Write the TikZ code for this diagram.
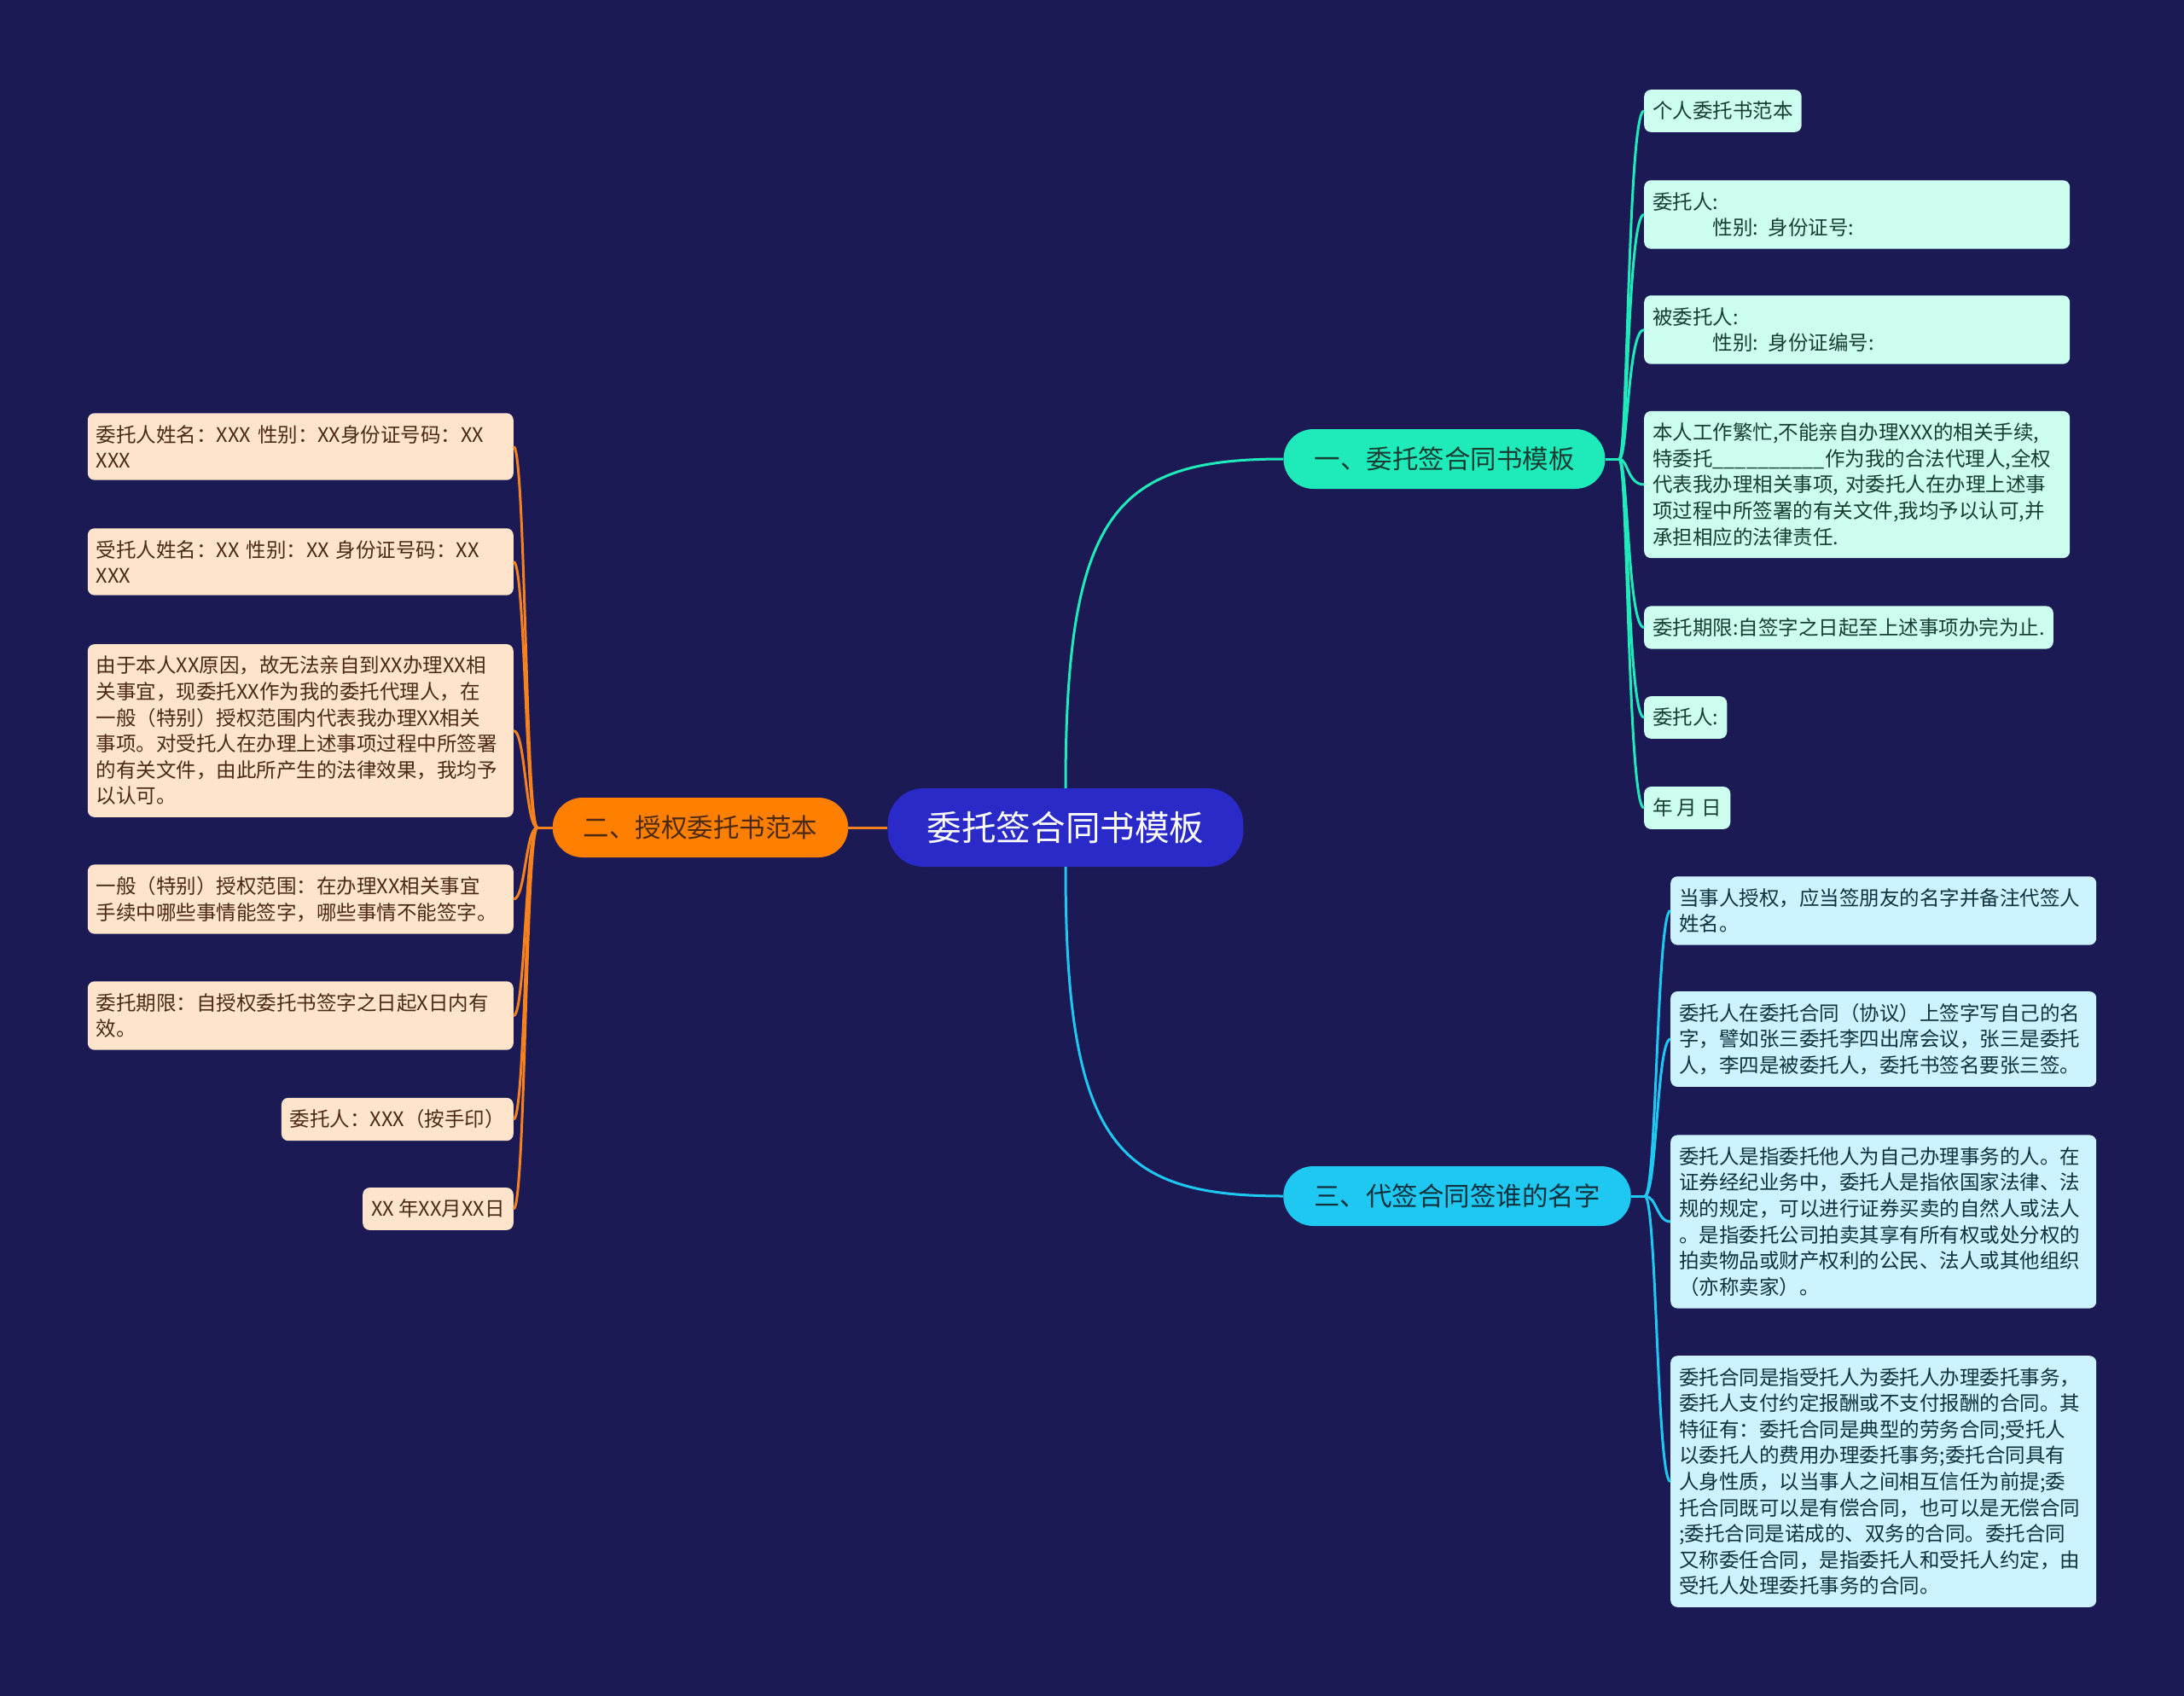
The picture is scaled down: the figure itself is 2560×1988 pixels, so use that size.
\documentclass[tikz,border=0pt]{standalone}
\usepackage{fontspec}
\setmainfont{Noto Sans CJK SC}
\definecolor{bgnavy}{HTML}{1B1A55}
\definecolor{rootblue}{HTML}{2A2AC8}
\definecolor{tealmain}{HTML}{1EEBB9}
\definecolor{orangemain}{HTML}{FF8000}
\definecolor{orangeline}{HTML}{F5821F}
\definecolor{cyanmain}{HTML}{1EC8F0}
\definecolor{mintfill}{HTML}{CCFFF0}
\definecolor{peachfill}{HTML}{FFE4CC}
\definecolor{icefill}{HTML}{CCF3FF}
\definecolor{minttext}{HTML}{173D33}
\definecolor{peachtext}{HTML}{4A2A12}
\definecolor{icetext}{HTML}{10323F}
\begin{document}
\begin{tikzpicture}[x=1pt,y=-1pt,
  leafbox/.style={rounded corners=8pt, inner xsep=10pt, inner ysep=14pt, align=left,
    font=\fontsize{23.5}{30.6}\selectfont},
  widebox/.style={text width=479pt},
  mintleaf/.style={leafbox, fill=mintfill, text=minttext, anchor=west},
  peachleaf/.style={leafbox, fill=peachfill, text=peachtext, anchor=east},
  iceleaf/.style={leafbox, fill=icefill, text=icetext, anchor=west},
  branchbox/.style={rounded corners=35pt, inner xsep=36pt, minimum height=70pt,
    font=\fontsize{30.5}{36}\selectfont},
  rootbox/.style={rounded corners=42pt, inner xsep=46pt, minimum height=92pt,
    fill=rootblue, text=white, font=\fontsize{40.6}{48}\selectfont},
  link/.style={line width=3pt}]
  \fill[bgnavy] (0,0) rectangle (2560,1988);
  \useasboundingbox (0,0) rectangle (2560,1988);

  \node[rootbox] (R) at (1249,970) {委托签合同书模板};
  \node[branchbox, fill=tealmain, text=minttext] (B1) at (1693,538) {一、委托签合同书模板};
  \node[branchbox, fill=orangemain, text=peachtext] (B2) at (821,970) {二、授权委托书范本};
  \node[branchbox, fill=cyanmain, text=icetext] (B3) at (1708,1402) {三、代签合同签谁的名字};

  \node[mintleaf] (L1) at (1927,130) {个人委托书范本};
  \node[mintleaf, widebox] (L2) at (1927,251.5) {委托人:\\\hspace*{3em}性别: 身份证号:};
  \node[mintleaf, widebox] (L3) at (1927,386.5) {被委托人:\\\hspace*{3em}性别: 身份证编号:};
  \node[mintleaf, widebox] (L4) at (1927,568) {本人工作繁忙,不能亲自办理XXX的相关手续,\\特委托\_\_\_\_\_\_\_\_\_\_作为我的合法代理人,全权\\代表我办理相关事项, 对委托人在办理上述事\\项过程中所签署的有关文件,我均予以认可,并\\承担相应的法律责任.};
  \node[mintleaf] (L5) at (1927,735.5) {委托期限:自签字之日起至上述事项办完为止.};
  \node[mintleaf] (L6) at (1927,841) {委托人:};
  \node[mintleaf] (L7) at (1927,947) {年 月 日};

  \node[peachleaf, widebox] (K1) at (602,523.5) {委托人姓名：XXX 性别：XX身份证号码：XX\\XXX};
  \node[peachleaf, widebox] (K2) at (602,658.5) {受托人姓名：XX 性别：XX 身份证号码：XX\\XXX};
  \node[peachleaf, widebox] (K3) at (602,856.5) {由于本人XX原因，故无法亲自到XX办理XX相\\关事宜，现委托XX作为我的委托代理人，在\\一般（特别）授权范围内代表我办理XX相关\\事项。对受托人在办理上述事项过程中所签署\\的有关文件，由此所产生的法律效果，我均予\\以认可。};
  \node[peachleaf, widebox] (K4) at (602,1054) {一般（特别）授权范围：在办理XX相关事宜\\手续中哪些事情能签字，哪些事情不能签字。};
  \node[peachleaf, widebox] (K5) at (602,1190.5) {委托期限：自授权委托书签字之日起X日内有\\效。};
  \node[peachleaf] (K6) at (602,1312) {委托人：XXX（按手印）};
  \node[peachleaf] (K7) at (602,1417) {XX 年XX月XX日};

  \node[iceleaf, widebox] (M1) at (1958,1067.5) {当事人授权，应当签朋友的名字并备注代签人\\姓名。};
  \node[iceleaf, widebox] (M2) at (1958,1218) {委托人在委托合同（协议）上签字写自己的名\\字，譬如张三委托李四出席会议，张三是委托\\人，李四是被委托人，委托书签名要张三签。};
  \node[iceleaf, widebox] (M3) at (1958,1432) {委托人是指委托他人为自己办理事务的人。在\\证券经纪业务中，委托人是指依国家法律、法\\规的规定，可以进行证券买卖的自然人或法人\\。是指委托公司拍卖其享有所有权或处分权的\\拍卖物品或财产权利的公民、法人或其他组织\\（亦称卖家）。};
  \node[iceleaf, widebox] (M4) at (1958,1736.5) {委托合同是指受托人为委托人办理委托事务，\\委托人支付约定报酬或不支付报酬的合同。其\\特征有：委托合同是典型的劳务合同;受托人\\以委托人的费用办理委托事务;委托合同具有\\人身性质，以当事人之间相互信任为前提;委\\托合同既可以是有偿合同，也可以是无偿合同\\;委托合同是诺成的、双务的合同。委托合同\\又称委任合同，是指委托人和受托人约定，由\\受托人处理委托事务的合同。};

  \coordinate (H1) at (1898,538);
  \coordinate (H2) at (630,970);
  \coordinate (H3) at (1928,1402);

  \draw[link, tealmain] (R.north) .. controls +(0,-326) and +(-195,0) .. (B1.west);
  \draw[link, orangeline] (R.west) -- (B2.east);
  \draw[link, cyanmain] (R.south) .. controls +(0,326) and +(-195,0) .. (B3.west);

  \draw[link, tealmain] (B1.east) -- (H1);
  \foreach \leaf in {L1,L2,L3,L4,L5,L6,L7}
    \draw[link, tealmain] (H1) .. controls +(10,0) and +(-19,0) .. (\leaf.west);
  \draw[link, orangeline] (B2.west) -- (H2);
  \foreach \leaf in {K1,K2,K3,K4,K5,K6,K7}
    \draw[link, orangeline] (H2) .. controls +(-14,0) and +(14,0) .. (\leaf.east);
  \draw[link, cyanmain] (B3.east) -- (H3);
  \foreach \leaf in {M1,M2,M3,M4}
    \draw[link, cyanmain] (H3) .. controls +(14,0) and +(-16,0) .. (\leaf.west);
\end{tikzpicture}
\end{document}
